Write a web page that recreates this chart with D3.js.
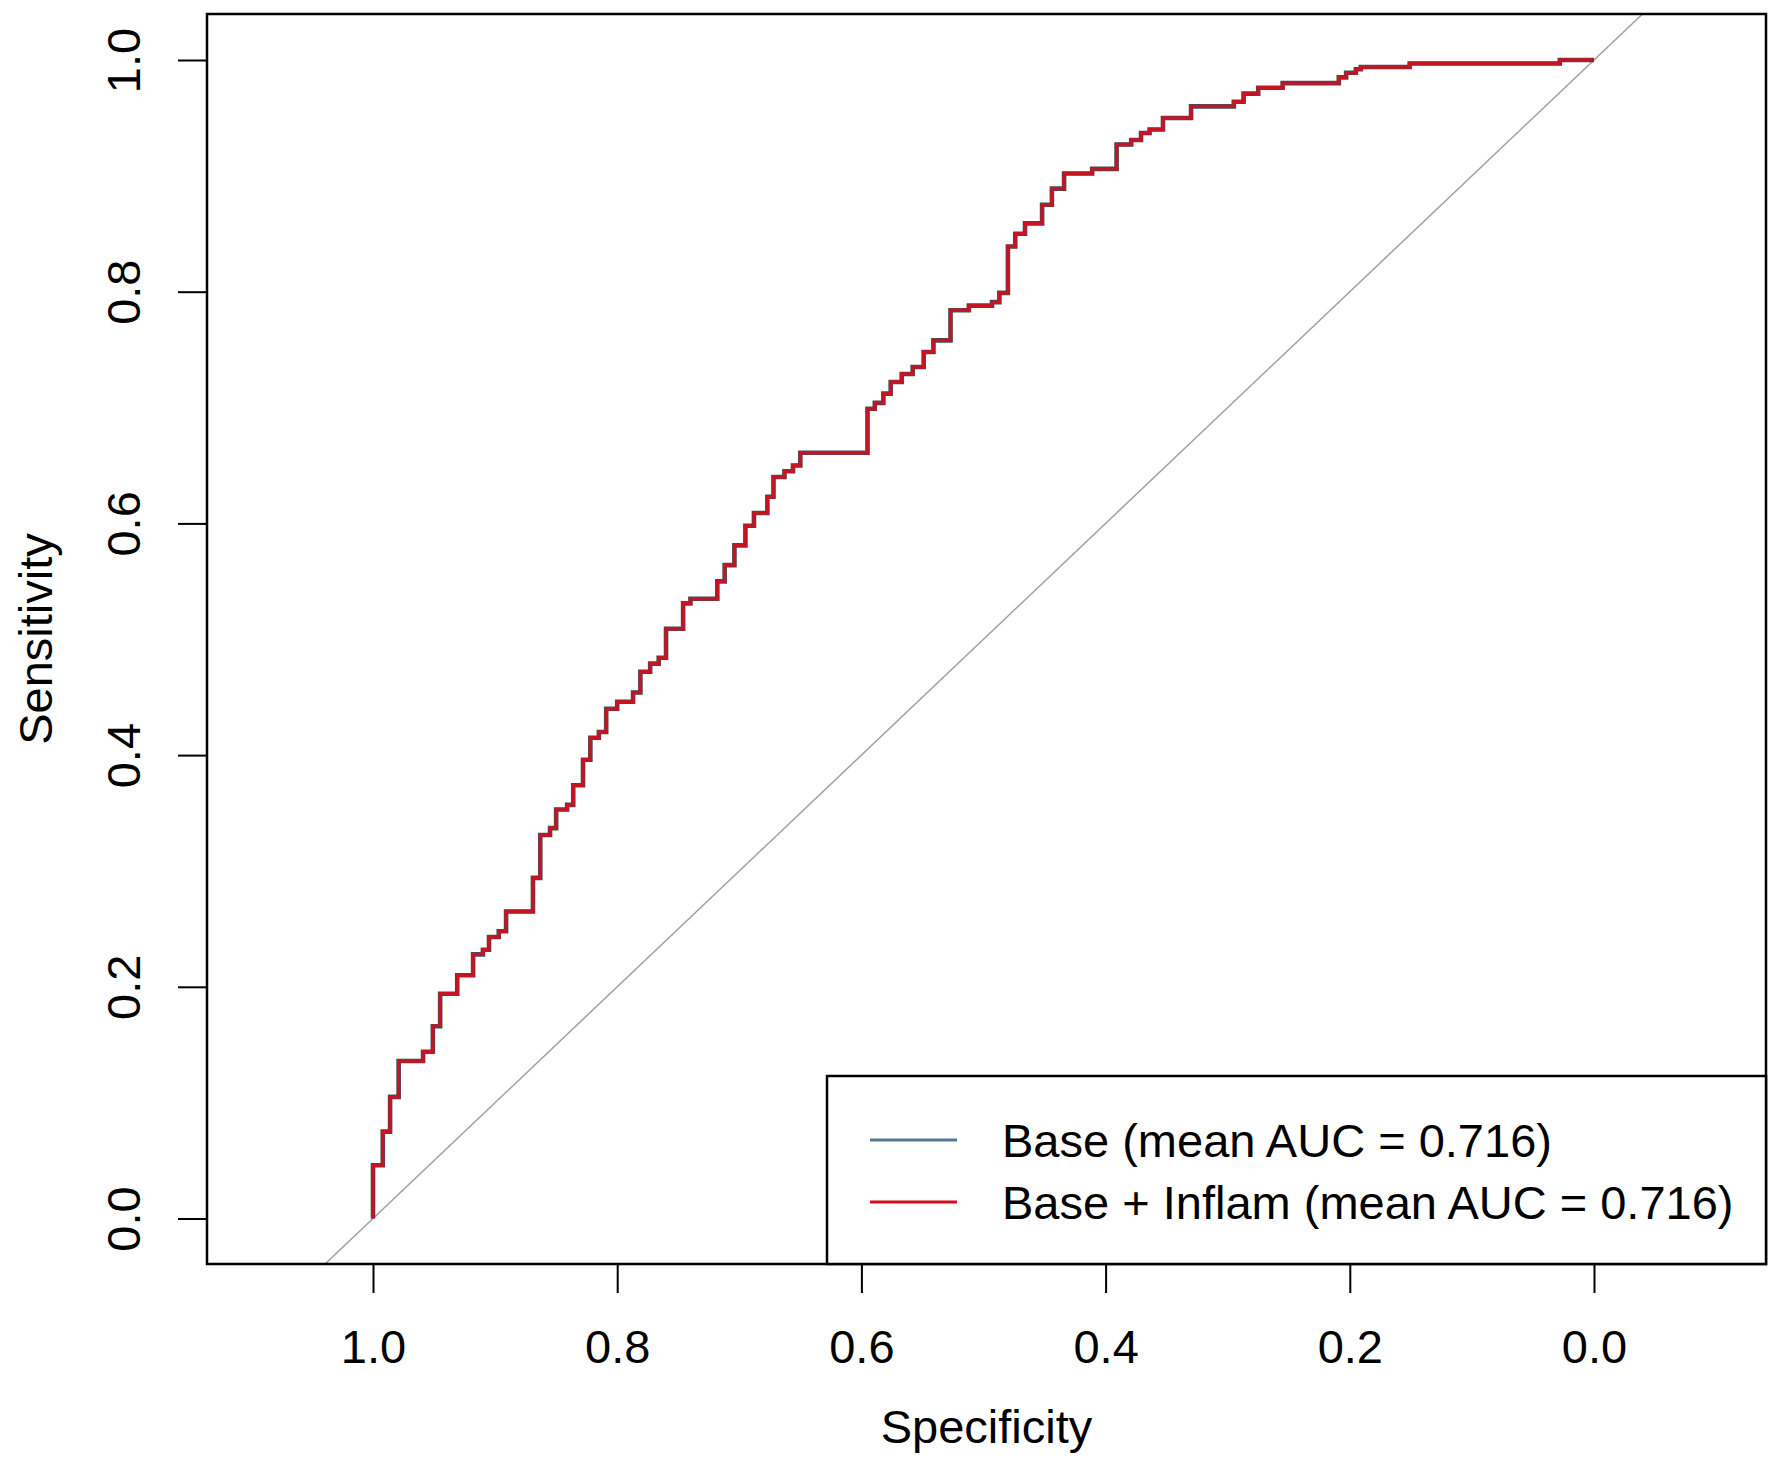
<!DOCTYPE html>
<html>
<head>
<meta charset="utf-8">
<script src="https://cdn.jsdelivr.net/npm/d3@7"></script>
<style>
  body { margin: 0; background: #fff; }
  text { font-family: "Liberation Sans", Arial, sans-serif; fill: #000; }
</style>
</head>
<body>
<svg id="chart"></svg>
<script>
/* global d3 */

// ROC corners: sensitivity rises to `sens` at specificity `spec`
// (both models give the same curve, so the base one sits under the red one)
const rocSpec = [1.000, 1.000, 0.992, 0.986, 0.979, 0.959, 0.951, 0.945, 0.931, 0.918,
  0.910, 0.905, 0.897, 0.891, 0.869, 0.863, 0.855, 0.850, 0.841, 0.836,
  0.828, 0.822, 0.815, 0.809, 0.800, 0.787, 0.781, 0.773, 0.766, 0.760,
  0.746, 0.740, 0.718, 0.712, 0.704, 0.695, 0.688, 0.677, 0.672, 0.663,
  0.656, 0.650, 0.595, 0.589, 0.582, 0.576, 0.567, 0.558, 0.549, 0.541,
  0.527, 0.512, 0.493, 0.487, 0.480, 0.474, 0.466, 0.452, 0.444, 0.434,
  0.411, 0.391, 0.379, 0.371, 0.364, 0.353, 0.330, 0.295, 0.287, 0.275,
  0.255, 0.209, 0.203, 0.195, 0.191, 0.151, 0.028, 0.000];
const rocSens = [0.000, 0.046, 0.075, 0.105, 0.136, 0.144, 0.166, 0.194, 0.210, 0.228,
  0.232, 0.243, 0.248, 0.265, 0.294, 0.331, 0.337, 0.353, 0.357, 0.374,
  0.396, 0.415, 0.420, 0.440, 0.446, 0.454, 0.472, 0.479, 0.484, 0.509,
  0.531, 0.535, 0.550, 0.564, 0.581, 0.598, 0.609, 0.623, 0.640, 0.645,
  0.650, 0.661, 0.699, 0.704, 0.712, 0.722, 0.729, 0.735, 0.748, 0.758,
  0.784, 0.788, 0.791, 0.799, 0.839, 0.850, 0.859, 0.875, 0.889, 0.902,
  0.906, 0.927, 0.931, 0.937, 0.940, 0.950, 0.960, 0.964, 0.971, 0.976,
  0.980, 0.985, 0.989, 0.992, 0.994, 0.997, 1.000, 1.000];

const seriesNames = ['Base (mean AUC = 0.716)', 'Base + Inflam (mean AUC = 0.716)'];
const seriesColors = ['#4f7b98', '#d0101e'];
const tickValues = [1.0, 0.8, 0.6, 0.4, 0.2, 0.0];

const W = 1772, H = 1459;
const box = { left: 207, right: 1766, top: 14, bottom: 1264 };

const svg = d3.select('#chart').attr('width', W).attr('height', H);

// specificity runs backwards, as pROC draws it
const x = d3.scaleLinear().domain([1, 0]).range([373, 1594]);
const y = d3.scaleLinear().domain([0, 1]).range([1218.5, 60]);

svg.append('clipPath').attr('id', 'plot-clip')
  .append('rect')
    .attr('x', box.left).attr('y', box.top)
    .attr('width', box.right - box.left).attr('height', box.bottom - box.top);

const plot = svg.append('g').attr('clip-path', 'url(#plot-clip)');

// chance diagonal, sens = 1 - spec, clipped to the box
plot.append('line')
  .attr('x1', x(1.3)).attr('y1', y(-0.3))
  .attr('x2', x(-0.3)).attr('y2', y(1.3))
  .attr('stroke', '#a0a0a0')
  .attr('stroke-width', 1.5);

const points = rocSpec.map((s, i) => ({ spec: s, sens: rocSens[i] }));

const line = d3.line()
  .curve(d3.curveStepAfter)
  .x(d => x(d.spec))
  .y(d => y(d.sens));

plot.selectAll('path.roc')
  .data(seriesNames)
  .enter().append('path')
    .attr('class', 'roc')
    .attr('fill', 'none')
    .attr('stroke', (d, i) => (i === 0 ? '#3d4d5c' : seriesColors[i]))
    .attr('stroke-width', (d, i) => (i === 0 ? 4.6 : 3.4))
    .attr('stroke-opacity', (d, i) => (i === 0 ? 1 : 0.92))
    .attr('d', () => line(points));

// axes
const xAxis = svg.append('g')
  .attr('transform', `translate(0,${box.bottom})`)
  .call(d3.axisBottom(x).tickValues(tickValues).tickSize(29).tickFormat(d3.format('.1f')));
xAxis.select('.domain').remove();
xAxis.selectAll('.tick line').attr('stroke', '#000').attr('stroke-width', 2);
xAxis.selectAll('.tick text')
  .attr('y', 99).attr('dy', null)
  .attr('font-size', '47px')
  .attr('fill', '#000');

const yAxis = svg.append('g')
  .attr('transform', `translate(${box.left},0)`)
  .call(d3.axisLeft(y).tickValues(tickValues.slice().reverse()).tickSize(29).tickFormat(d3.format('.1f')));
yAxis.select('.domain').remove();
yAxis.selectAll('.tick line').attr('stroke', '#000').attr('stroke-width', 2);
yAxis.selectAll('.tick text')
  .attr('transform', 'rotate(-90)')
  .attr('x', 0).attr('y', -67).attr('dy', null)
  .attr('text-anchor', 'middle')
  .attr('font-size', '47px')
  .attr('fill', '#000');

// plot frame
svg.append('rect')
  .attr('x', box.left).attr('y', box.top)
  .attr('width', box.right - box.left).attr('height', box.bottom - box.top)
  .attr('fill', 'none')
  .attr('stroke', '#000')
  .attr('stroke-width', 2.5);

// axis titles
svg.append('text')
  .attr('x', (box.left + box.right) / 2).attr('y', 1443)
  .attr('text-anchor', 'middle')
  .attr('font-size', '47px')
  .text('Specificity');

svg.append('text')
  .attr('transform', `translate(52,${(box.top + box.bottom) / 2}) rotate(-90)`)
  .attr('text-anchor', 'middle')
  .attr('font-size', '47px')
  .text('Sensitivity');

// legend, bottom right
const legend = svg.append('g');
legend.append('rect')
  .attr('x', 827).attr('y', 1076)
  .attr('width', box.right - 827).attr('height', box.bottom - 1076)
  .attr('fill', '#fff')
  .attr('stroke', '#000')
  .attr('stroke-width', 2.5);

const row = legend.selectAll('g.row')
  .data(seriesNames)
  .enter().append('g')
    .attr('class', 'row')
    .attr('transform', (d, i) => `translate(0,${1140 + i * 62})`);

row.append('line')
  .attr('x1', 870).attr('x2', 957)
  .attr('stroke', (d, i) => seriesColors[i])
  .attr('stroke-width', 3);

row.append('text')
  .attr('x', 1002).attr('y', 17)
  .attr('font-size', '47px')
  .text(d => d);
</script>
</body>
</html>
